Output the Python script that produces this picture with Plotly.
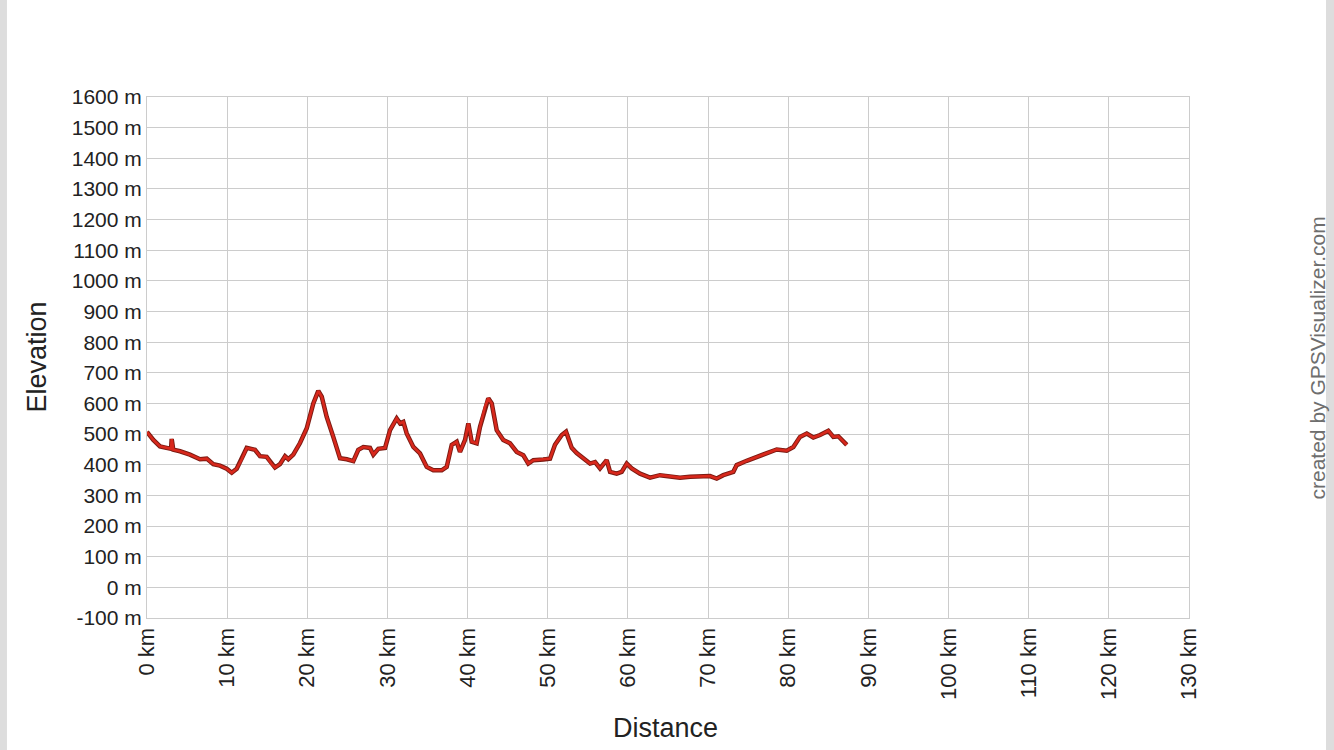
import plotly.graph_objects as go

distance_km = [0.0, 0.79, 1.62, 2.46, 3.0, 3.08, 3.28, 4.12, 5.36, 6.61, 7.45, 8.27, 9.11, 9.94, 10.57,
               11.19, 11.82, 12.44, 13.47, 14.1, 14.93, 15.56, 15.97, 16.59, 17.22, 17.63, 18.25,
               19.09, 19.93, 20.75, 21.37, 21.8, 22.42, 23.24, 24.08, 24.92, 25.74, 26.36, 26.99,
               27.82, 28.24, 28.86, 29.7, 30.32, 31.15, 31.57, 31.98, 32.4, 33.23, 34.06, 34.9,
               35.72, 36.77, 37.39, 38.02, 38.64, 39.05, 39.68, 40.09, 40.51, 41.13, 41.55, 42.17,
               42.58, 43.01, 43.63, 44.45, 45.29, 46.13, 46.95, 47.57, 48.2, 49.44, 50.28, 50.9,
               51.74, 52.28, 52.99, 53.61, 54.44, 55.27, 55.9, 56.52, 57.35, 57.77, 58.6, 59.22,
               59.85, 60.47, 61.51, 62.76, 64.0, 65.25, 66.5, 67.75, 69.0, 70.24, 71.08, 71.9,
               73.15, 73.57, 74.82, 76.07, 77.32, 78.57, 79.81, 80.64, 81.47, 82.31, 83.13, 83.97,
               85.0, 85.63, 86.25, 87.3]
elevation_m = [507, 481, 460, 455, 452, 484, 449, 444, 433, 418, 420, 402, 397, 387, 374,
               387, 418, 455, 449, 428, 426, 402, 391, 402, 428, 418, 433,
               471, 519, 600, 641, 622, 556, 491, 421, 418, 412, 449, 458,
               455, 433, 452, 455, 513, 551, 535, 540, 502, 458, 437, 393,
               382, 382, 393, 465, 475, 442, 481, 535, 475, 470, 524, 589,
               617, 600, 513, 481, 470, 442, 431, 404, 415, 417, 420, 465,
               497, 508, 455, 438, 421, 404, 409, 388, 415, 377, 371, 377,
               404, 388, 371, 358, 366, 361, 358, 361, 363, 363, 355, 366,
               377, 399, 413, 426, 437, 450, 446, 458, 491, 502, 489, 497,
               511, 491, 493, 465]

y_ticks = list(range(-100, 1700, 100))
x_ticks = list(range(0, 140, 10))

FONT = "Liberation Sans, Arial, sans-serif"

fig = go.Figure()
fig.add_trace(go.Scatter(x=distance_km, y=elevation_m, mode="lines",
                         line=dict(color="#7a1a12", width=4.5), hoverinfo="skip", showlegend=False))
fig.add_trace(go.Scatter(x=distance_km, y=elevation_m, mode="lines",
                         line=dict(color="#d8281c", width=2.6), showlegend=False))

fig.update_layout(
    width=1334, height=750,
    margin=dict(l=147, r=145, t=97, b=132),
    paper_bgcolor="white", plot_bgcolor="white",
    font=dict(family=FONT, size=20, color="#222222"),
    xaxis=dict(range=[0, 130], tickvals=x_ticks, ticktext=[f"{v} km" for v in x_ticks],
               tickangle=-90, showgrid=True, gridcolor="#cccccc", gridwidth=1,
               showline=True, linecolor="#cccccc", mirror=True, zeroline=False,
               ticks="", tickfont=dict(size=22)),
    yaxis=dict(range=[-100, 1600], tickvals=y_ticks, ticktext=[f"{v} m" for v in y_ticks],
               showgrid=True, gridcolor="#cccccc", gridwidth=1,
               showline=True, linecolor="#cccccc", mirror=True, zeroline=False,
               ticks="", tickfont=dict(size=21)),
    annotations=[
        dict(text="Elevation", x=-0.1065, y=0.5, xref="paper", yref="paper", textangle=-90,
             showarrow=False, font=dict(size=27, color="#222222"), xanchor="center", yanchor="middle"),
        dict(text="Distance", x=0.498, y=-0.211, xref="paper", yref="paper",
             showarrow=False, font=dict(size=27, color="#222222"), xanchor="center", yanchor="middle"),
        dict(text="created by GPSVisualizer.com", x=1.1238, y=0.5, xref="paper", yref="paper",
             textangle=-90, showarrow=False, font=dict(size=21, color="#6e6e6e"),
             xanchor="center", yanchor="middle"),
    ],
    shapes=[
        dict(type="rect", xref="paper", yref="paper", x0=-0.1411, x1=-0.1344, y0=-0.3, y1=1.2,
             fillcolor="#dddddd", line=dict(width=0), layer="below"),
        dict(type="rect", xref="paper", yref="paper", x0=1.1315, x1=1.1392, y0=-0.3, y1=1.2,
             fillcolor="#dddddd", line=dict(width=0), layer="below"),
    ],
)

fig.write_html("out.html", config={"displayModeBar": False},
               post_script="document.body.style.margin='0px';document.body.style.overflow='hidden';")
